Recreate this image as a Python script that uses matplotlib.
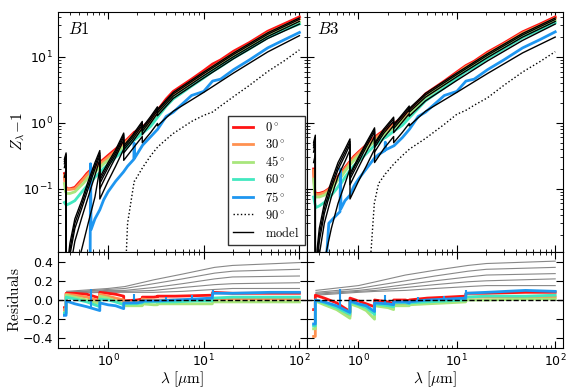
import numpy as np
import matplotlib.pyplot as plt
from matplotlib.font_manager import FontProperties
from matplotlib.ticker import MultipleLocator
from matplotlib.lines import Line2D

# ---------------- data ----------------
angles = ["0", "30", "45", "60", "75"]
colors = ["#ff1414", "#ff9150", "#a8e67c", "#42e8c0", "#1e96f0"]

# model grid, with the H series limits (Balmer..Humphreys) as jumps
wl_mod = [0.35, 0.3645, 0.3647, 0.38, 0.40, 0.45, 0.53, 0.62, 0.73, 0.8203, 0.8205,
          1.0, 1.2, 1.4584, 1.4586, 1.8, 2.2789, 2.2791, 2.8, 3.2819, 3.2821,
          4.8, 10, 20.5, 46.6, 100]
# observed grid (includes H-alpha, Pa-alpha, Br-alpha, Pf-alpha, Hu-alpha)
wl_obs = [0.35, 0.36, 0.37, 0.40, 0.45, 0.50, 0.55, 0.6, 0.65, 0.6563, 0.665, 0.73,
          0.82, 0.9, 1.0, 1.2, 1.45, 1.6, 1.86, 1.875, 1.89, 2.3, 2.8, 3.3, 4.05,
          4.8, 7.46, 10, 12.37, 15, 20.5, 30, 46.6, 70, 100]
wl_res = [0.35, 0.3645, 0.3647, 0.45, 0.6, 0.8203, 0.8205, 1.0, 1.2, 1.4584, 1.4586,
          2.0, 2.2789, 2.2791, 3.0, 3.2819, 3.2821, 5, 8, 12.3, 12.4, 20, 50, 100]
wl_grey = [0.37, 1.0, 1.5, 3, 6, 13, 20, 100]
wl_spk = [0.6563, 1.875, 4.05, 7.46, 12.37]

# ---- B1 models
b1_m0 = [0.28, 0.35, 0.003, 0.008, 0.015, 0.035, 0.066, 0.13, 0.25, 0.38, 0.149, 0.25, 0.39,
         0.70, 0.45, 0.65, 1.05, 0.85, 1.26, 1.75, 1.6, 2.9, 5.9, 11.5, 23.2, 39]
b1_m30 = [0.26, 0.33, 0.002, 0.006, 0.012, 0.030, 0.058, 0.115, 0.225, 0.35, 0.135, 0.23, 0.36,
          0.66, 0.42, 0.61, 0.99, 0.80, 1.19, 1.66, 1.52, 2.75, 5.6, 10.9, 22.0, 37.2]
b1_m45 = [0.24, 0.31, 0.002, 0.005, 0.010, 0.025, 0.050, 0.10, 0.20, 0.32, 0.12, 0.21, 0.33,
          0.61, 0.39, 0.56, 0.92, 0.74, 1.10, 1.54, 1.41, 2.55, 5.2, 10.1, 20.4, 34.6]
b1_m60 = [0.21, 0.28, 0.001, 0.003, 0.006, 0.016, 0.036, 0.075, 0.16, 0.28, 0.10, 0.18, 0.30,
          0.55, 0.35, 0.51, 0.83, 0.66, 1.0, 1.40, 1.28, 2.35, 4.8, 9.4, 19.0, 31.5]
b1_m75 = [0.15, 0.20, 0.0005, 0.001, 0.002, 0.005, 0.012, 0.030, 0.075, 0.20, 0.07, 0.13, 0.22,
          0.40, 0.27, 0.40, 0.62, 0.50, 0.72, 0.98, 0.90, 1.5, 2.9, 5.7, 11.9, 21.0]

# ---- B1 observations
b1_o0 = [0.17, 0.11, 0.10, 0.10, 0.105, 0.125, 0.145, 0.17, 0.19, 0.195, 0.19, 0.21, 0.25,
         0.28, 0.32, 0.40, 0.50, 0.57, 0.71, 0.72, 0.72, 0.87, 1.1, 1.55, 2.3, 3.0, 4.6,
         6.2, 7.8, 9.0, 12.2, 16.5, 24.5, 32.0, 40.5]
b1_o30 = [0.16, 0.105, 0.098, 0.098, 0.10, 0.118, 0.138, 0.16, 0.18, 0.185, 0.18, 0.20, 0.235,
          0.265, 0.30, 0.375, 0.47, 0.54, 0.67, 0.675, 0.675, 0.83, 1.05, 1.45, 2.1, 2.75,
          4.25, 5.7, 7.1, 8.4, 11.3, 15.5, 23.0, 30.0, 37.5]
b1_o45 = [0.12, 0.09, 0.085, 0.085, 0.09, 0.105, 0.12, 0.14, 0.16, 0.165, 0.16, 0.18, 0.21,
          0.24, 0.27, 0.34, 0.43, 0.49, 0.61, 0.62, 0.61, 0.76, 0.96, 1.3, 1.88, 2.45, 3.8,
          5.0, 6.3, 7.5, 10.1, 14.0, 20.8, 27.2, 33.5]
b1_o60 = [0.062, 0.058, 0.057, 0.06, 0.066, 0.08, 0.095, 0.11, 0.125, 0.13, 0.125, 0.15, 0.177,
          0.205, 0.235, 0.30, 0.38, 0.44, 0.55, 0.56, 0.55, 0.70, 0.89, 1.22, 1.78, 2.3, 3.6,
          4.8, 6.0, 7.1, 9.6, 13.2, 19.6, 25.7, 31.5]
b1_o75 = [0.002, 0.002, 0.002, 0.003, 0.004, 0.005, 0.006, 0.007, 0.008, 0.24, 0.024, 0.035,
          0.048, 0.068, 0.09, 0.13, 0.18, 0.22, 0.28, 0.49, 0.29, 0.46, 0.62, 0.80, 1.25,
          1.45, 2.6, 3.0, 4.3, 4.6, 6.4, 9.0, 13.7, 18.3, 23.5]
b1_o90 = [0.001, 0.001, 0.001, 0.001, 0.001, 0.001, 0.001, 0.001, 0.001, 0.001, 0.001, 0.001,
          0.001, 0.001, 0.001, 0.001, 0.001, 0.03, 0.12, 0.13, 0.13, 0.21, 0.32, 0.43, 0.56,
          0.69, 1.05, 1.3, 1.46, 1.8, 2.5, 3.7, 6.0, 8.8, 12.8]

# ---- B1 residuals
b1_r0 = [-0.08, -0.08, 0.07, 0.07, 0.06, 0.02, 0.08, 0.07, 0.06, 0.04, -0.01, 0.0, 0.01, 0.03,
         0.03, 0.035, 0.04, 0.04, 0.045, 0.05, 0.08, 0.07, 0.07, 0.07]
b1_r30 = [-0.10, -0.10, 0.06, 0.05, 0.03, -0.01, 0.06, 0.04, 0.02, 0.0, -0.03, -0.02, -0.01,
          0.01, 0.0, 0.0, 0.0, 0.0, 0.0, 0.0, 0.01, 0.01, 0.01, 0.01]
b1_r45 = [-0.13, -0.13, 0.05, 0.03, 0.0, -0.04, 0.04, 0.02, -0.01, -0.04, -0.06, -0.06, -0.06,
          -0.04, -0.05, -0.05, -0.04, -0.04, -0.04, -0.04, -0.02, -0.02, -0.02, -0.02]
b1_r60 = [-0.14, -0.14, 0.03, 0.01, -0.02, -0.07, 0.01, 0.0, -0.02, -0.05, -0.04, -0.04, -0.03,
          -0.02, -0.02, -0.02, -0.02, -0.02, -0.01, -0.01, 0.02, 0.03, 0.03, 0.03]
b1_r75 = [-0.16, -0.16, -0.01, -0.04, -0.07, -0.11, -0.03, -0.05, -0.06, -0.09, -0.03, -0.03,
          -0.02, -0.01, -0.01, -0.01, -0.01, 0.0, 0.01, 0.02, 0.07, 0.07, 0.08, 0.08]
b1_g1 = [0.09, 0.12, 0.14, 0.21, 0.27, 0.34, 0.36, 0.39]
b1_g2 = [0.08, 0.11, 0.12, 0.17, 0.22, 0.28, 0.30, 0.32]
b1_g3 = [0.08, 0.10, 0.10, 0.13, 0.17, 0.22, 0.24, 0.25]
b1_g4 = [0.07, 0.09, 0.09, 0.10, 0.13, 0.16, 0.17, 0.18]
b1_g5 = [0.07, 0.08, 0.08, 0.08, 0.09, 0.11, 0.12, 0.12]
b1_spk_lo = [-0.07, -0.03, 0.0, 0.01, 0.05]
b1_spk_hi = [0.11, 0.06, 0.03, 0.05, 0.10]

# ---- B3 models
b3_m0 = [0.50, 0.65, 0.004, 0.012, 0.025, 0.06, 0.13, 0.25, 0.40, 0.57, 0.17, 0.30, 0.50,
         0.84, 0.49, 0.80, 1.22, 0.94, 1.35, 1.8, 1.65, 2.8, 5.7, 11.2, 22.7, 39]
b3_m30 = [0.46, 0.60, 0.003, 0.009, 0.02, 0.05, 0.115, 0.22, 0.36, 0.52, 0.155, 0.28, 0.47,
          0.79, 0.46, 0.75, 1.15, 0.89, 1.28, 1.7, 1.56, 2.65, 5.4, 10.6, 21.5, 37]
b3_m45 = [0.42, 0.55, 0.002, 0.007, 0.016, 0.042, 0.10, 0.195, 0.32, 0.47, 0.14, 0.25, 0.43,
          0.73, 0.42, 0.69, 1.06, 0.82, 1.18, 1.58, 1.45, 2.45, 5.0, 9.8, 20, 34.5]
b3_m60 = [0.36, 0.47, 0.001, 0.004, 0.01, 0.03, 0.075, 0.155, 0.26, 0.39, 0.115, 0.21, 0.36,
          0.62, 0.36, 0.59, 0.91, 0.71, 1.03, 1.38, 1.26, 2.15, 4.4, 8.7, 17.8, 31.5]
b3_m75 = [0.25, 0.33, 0.0005, 0.001, 0.002, 0.008, 0.025, 0.06, 0.12, 0.20, 0.07, 0.13, 0.22,
          0.40, 0.25, 0.40, 0.62, 0.50, 0.72, 0.98, 0.90, 1.5, 2.9, 5.6, 11.5, 20]

# ---- B3 observations
b3_o0 = [0.20, 0.09, 0.085, 0.085, 0.09, 0.10, 0.12, 0.145, 0.17, 0.175, 0.17, 0.21, 0.26,
         0.31, 0.36, 0.46, 0.60, 0.67, 0.79, 0.80, 0.79, 0.98, 1.2, 1.55, 2.1, 2.75, 4.3,
         5.9, 7.4, 8.6, 11.8, 16.2, 24, 31.5, 40.5]
b3_o30 = [0.19, 0.088, 0.082, 0.082, 0.087, 0.097, 0.115, 0.14, 0.163, 0.168, 0.163, 0.2,
          0.25, 0.295, 0.345, 0.44, 0.57, 0.64, 0.75, 0.76, 0.75, 0.93, 1.14, 1.48, 2.0,
          2.62, 4.1, 5.6, 7.1, 8.2, 11.2, 15.5, 23, 30, 38.5]
b3_o45 = [0.14, 0.08, 0.075, 0.075, 0.08, 0.09, 0.105, 0.128, 0.15, 0.155, 0.15, 0.185, 0.23,
          0.27, 0.315, 0.40, 0.52, 0.58, 0.68, 0.69, 0.68, 0.85, 1.04, 1.35, 1.85, 2.4, 3.8,
          5.2, 6.6, 7.6, 10.4, 14.4, 21.3, 27.8, 35.5]
b3_o60 = [0.075, 0.06, 0.052, 0.055, 0.062, 0.072, 0.085, 0.10, 0.12, 0.125, 0.12, 0.15, 0.19,
          0.225, 0.26, 0.34, 0.45, 0.5, 0.6, 0.61, 0.6, 0.75, 0.92, 1.2, 1.65, 2.15, 3.4, 4.7,
          6.0, 6.9, 9.5, 13.2, 19.6, 25.8, 33]
b3_o75 = [0.003, 0.003, 0.003, 0.003, 0.003, 0.03, 0.035, 0.04, 0.045, 0.20, 0.05, 0.066,
          0.08, 0.11, 0.14, 0.2, 0.29, 0.33, 0.38, 0.51, 0.39, 0.45, 0.6, 0.8, 1.25, 1.45,
          2.6, 3.0, 4.3, 4.6, 6.4, 9.0, 13.7, 18.3, 24]
b3_o90 = [0.001, 0.001, 0.001, 0.001, 0.001, 0.001, 0.001, 0.001, 0.001, 0.001, 0.001, 0.001,
          0.001, 0.001, 0.001, 0.001, 0.06, 0.12, 0.165, 0.17, 0.17, 0.24, 0.32, 0.40, 0.49,
          0.58, 0.95, 1.35, 1.55, 1.85, 2.4, 3.7, 5.9, 8.5, 12]

# ---- B3 residuals
b3_r0 = [-0.10, -0.10, 0.05, 0.02, -0.03, -0.12, 0.02, -0.01, -0.04, -0.07, 0.0, -0.02, -0.04,
         0.0, 0.0, -0.01, 0.0, 0.02, 0.03, 0.04, 0.07, 0.07, 0.08, 0.08]
b3_r30 = [-0.38, -0.38, 0.0, -0.04, -0.09, -0.17, -0.02, -0.05, -0.08, -0.13, -0.04, -0.06,
          -0.08, -0.04, -0.04, -0.05, -0.04, -0.02, -0.01, 0.0, 0.03, 0.03, 0.03, 0.03]
b3_r45 = [-0.30, -0.30, -0.01, -0.05, -0.10, -0.19, -0.04, -0.07, -0.11, -0.20, -0.06, -0.08,
          -0.10, -0.06, -0.06, -0.06, -0.05, -0.04, -0.03, -0.02, 0.0, 0.0, 0.01, 0.01]
b3_r60 = [-0.27, -0.27, 0.0, -0.03, -0.08, -0.15, -0.02, -0.05, -0.08, -0.15, -0.04, -0.06,
          -0.07, -0.03, -0.03, -0.04, -0.03, -0.02, -0.01, 0.0, 0.03, 0.04, 0.04, 0.05]
b3_r75 = [-0.25, -0.25, 0.0, -0.02, -0.06, -0.13, -0.01, -0.04, -0.06, -0.12, -0.03, -0.04,
          -0.05, -0.02, -0.02, -0.03, -0.02, 0.0, 0.01, 0.02, 0.07, 0.08, 0.10, 0.09]
b3_g1 = [0.10, 0.15, 0.19, 0.26, 0.31, 0.36, 0.38, 0.405]
b3_g2 = [0.08, 0.12, 0.15, 0.20, 0.25, 0.30, 0.32, 0.34]
b3_g3 = [0.07, 0.10, 0.12, 0.16, 0.20, 0.24, 0.26, 0.275]
b3_g4 = [0.06, 0.09, 0.10, 0.13, 0.16, 0.19, 0.20, 0.22]
b3_g5 = [0.05, 0.08, 0.09, 0.10, 0.12, 0.14, 0.15, 0.15]
b3_spk_lo = [-0.07, -0.04, -0.01, 0.01, 0.05]
b3_spk_hi = [0.11, 0.05, 0.03, 0.04, 0.10]

# ---------------- plot ----------------
W, H = 581, 388
fig = plt.figure(figsize=(W / 100, H / 100), dpi=100)


def px(x0, y0, x1, y1):
    return [x0 / W, 1 - y1 / H, (x1 - x0) / W, (y1 - y0) / H]


ax_t1 = fig.add_axes(px(58, 12, 307, 252))
ax_t3 = fig.add_axes(px(307, 12, 563, 252))
ax_r1 = fig.add_axes(px(58, 252, 307, 348))
ax_r3 = fig.add_axes(px(307, 252, 563, 348))

panels = [
    (ax_t1, ax_r1, "B1", [b1_o0, b1_o30, b1_o45, b1_o60, b1_o75], b1_o90,
     [b1_m0, b1_m30, b1_m45, b1_m60, b1_m75], [b1_r0, b1_r30, b1_r45, b1_r60, b1_r75],
     [b1_g1, b1_g2, b1_g3, b1_g4, b1_g5], b1_spk_lo, b1_spk_hi),
    (ax_t3, ax_r3, "B3", [b3_o0, b3_o30, b3_o45, b3_o60, b3_o75], b3_o90,
     [b3_m0, b3_m30, b3_m45, b3_m60, b3_m75], [b3_r0, b3_r30, b3_r45, b3_r60, b3_r75],
     [b3_g1, b3_g2, b3_g3, b3_g4, b3_g5], b3_spk_lo, b3_spk_hi),
]

for ax_t, ax_r, name, obs, obs90, mods, res, greys, slo, shi in panels:
    for y, c in zip(obs, colors):
        ax_t.plot(wl_obs, y, color=c, lw=2)
    ax_t.plot(wl_obs, obs90, color="k", ls=":", lw=1)
    for y in mods:
        ax_t.plot(wl_mod, y, color="k", lw=1)
    ax_t.set_yscale("log")
    ax_t.set_ylim(0.011, 48)
    ax_t.text(0.04, 0.93, "$" + name + "$", transform=ax_t.transAxes, fontsize=12,
              va="center", math_fontfamily="cm")

    for y in greys:
        ax_r.plot(wl_grey, y, color="#888888", lw=0.8)
    for y, c in zip(res, colors):
        ax_r.plot(wl_res, y, color=c, lw=2)
    ax_r.vlines(wl_spk, slo, shi, color=colors[-1], lw=1.5)
    ax_r.axhline(0, color="k", ls="--", lw=1)
    ax_r.set_ylim(-0.5, 0.5)
    ax_r.yaxis.set_major_locator(MultipleLocator(0.2))
    ax_r.set_xlabel(r"$\lambda\ [\mu\mathrm{m}]$", fontsize=11, math_fontfamily="cm")
    ax_r.xaxis.set_label_coords(0.5, -0.225)

    for ax in (ax_t, ax_r):
        ax.set_xscale("log")
        ax.set_xlim(0.3, 120)
        ax.tick_params(which="both", direction="in", top=True, right=True, labelsize=9)
        ax.tick_params(which="major", length=5)
        ax.tick_params(which="minor", length=2.5)
    ax_t.tick_params(labelbottom=False)

ax_t3.tick_params(labelleft=False)
ax_r3.tick_params(labelleft=False)

ax_t1.set_ylabel(r"$Z_\lambda\!-\!1$", fontsize=11, math_fontfamily="cm")
ax_t1.yaxis.set_label_coords(-0.125, 0.5)
ax_r1.set_ylabel(r"$\mathrm{Residuals}$", fontsize=11, math_fontfamily="cm")
ax_r1.yaxis.set_label_coords(-0.145, 0.5)

handles = [Line2D([], [], color=c, lw=2) for c in colors]
handles.append(Line2D([], [], color="k", ls=":", lw=1))
handles.append(Line2D([], [], color="k", lw=1))
labels = [r"$%s^\circ$" % a for a in angles] + [r"$90^\circ$", r"$\mathrm{model}$"]
leg = ax_t1.legend(handles, labels, loc="lower right", bbox_to_anchor=(0.99, 0.03),
                   borderaxespad=0, prop=FontProperties(size=9, math_fontfamily="cm"),
                   handlelength=1.6, handletextpad=1.0, labelspacing=0.33,
                   fancybox=False, framealpha=1)
leg.get_frame().set_edgecolor("#333333")

fig.savefig("out.png", dpi=100)
